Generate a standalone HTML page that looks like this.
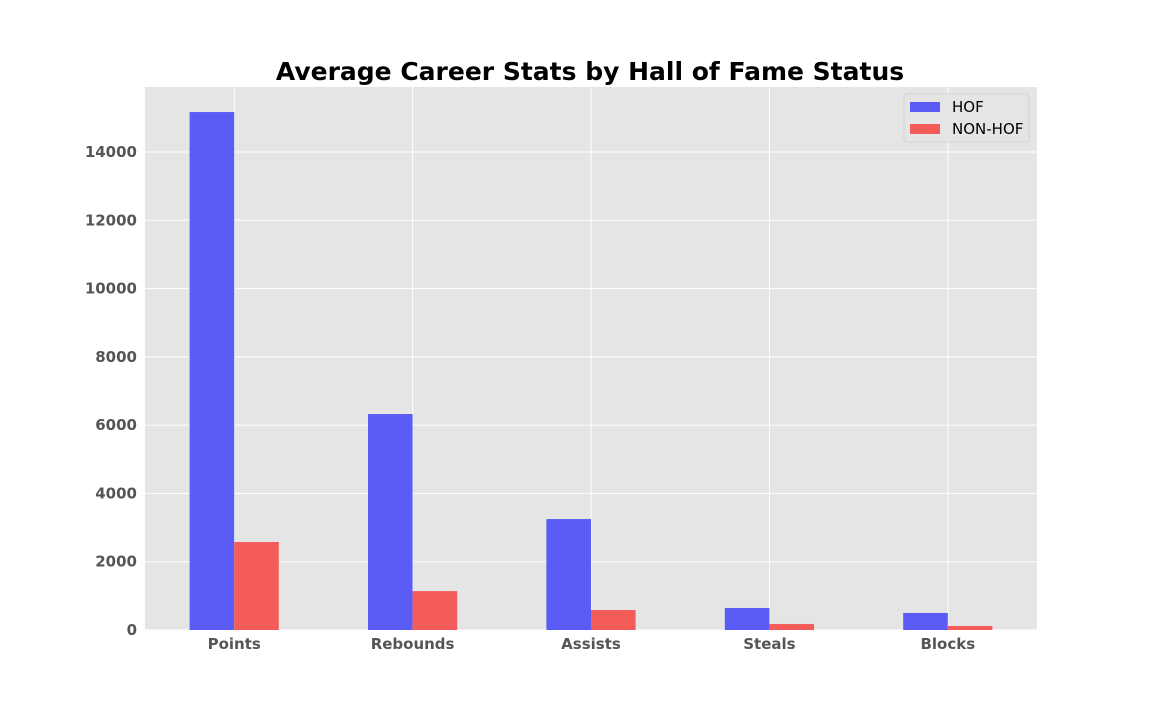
<!DOCTYPE html>
<html><head><meta charset="utf-8"><style>
body{margin:0;background:#fff;}
svg{display:block;font-family:"DejaVu Sans","Liberation Sans",sans-serif;}
</style></head><body>
<svg id="chart" width="1152" height="720"></svg>
<script>
const categories=["Points","Rebounds","Assists","Steals","Blocks"];
const hofValues=[15170,6325,3250,645,500];
const nonHofValues=[2577,1140,586,176,117];
const yTicks=[0,2000,4000,6000,8000,10000,12000,14000];
const NS="http://www.w3.org/2000/svg";
const svg=document.getElementById('chart');
const L=145,R=1037,T=87,B=630;
const step=(R-L)/categories.length;
const bw=step*0.25;
const y=v=>B-(v/14000)*(B-152);
const xc=i=>L+step*(i+0.5);
function mk(tag,attrs,parent){const e=document.createElementNS(NS,tag);for(const k in attrs)e.setAttribute(k,attrs[k]);(parent||svg).appendChild(e);return e;}
const bg=mk('rect',{x:L,y:T,width:R-L,height:B-T,fill:'#e5e5e5'});


yTicks.forEach(t=>{
  const g=mk('line',{x1:L,x2:R,y1:y(t),y2:y(t),stroke:'#fff','stroke-width':1});
  
  
  const tx=mk('text',{x:L-8,y:y(t)+5,'text-anchor':'end','font-size':15,'font-weight':'bold',fill:'#555'});
  tx.textContent=t;
  
  
});
categories.forEach((c,i)=>{
  const g=mk('line',{x1:xc(i),x2:xc(i),y1:T,y2:B,stroke:'#fff','stroke-width':1});
  
  
});
categories.forEach((c,i)=>{
  const b1=mk('rect',{x:xc(i)-bw,y:y(hofValues[i]),width:bw,height:B-y(hofValues[i]),fill:'#5b5bf5'});
  
  
  const b2=mk('rect',{x:xc(i),y:y(nonHofValues[i]),width:bw,height:B-y(nonHofValues[i]),fill:'#f45c5c'});
  
  
  const tx=mk('text',{x:xc(i),y:B+19,'text-anchor':'middle','font-size':15,'font-weight':'bold',fill:'#555'});
  tx.textContent=c;
  
  
});
const title=mk('text',{x:590,y:80,'text-anchor':'middle','font-size':25,'font-weight':'bold',fill:'#000'});
title.textContent='Average Career Stats by Hall of Fame Status';


const lg=mk('g',{});


mk('rect',{x:904,y:94,width:125,height:48,rx:3,fill:'#e5e5e5',stroke:'#ccc','stroke-width':0.8},lg);
[['HOF','#5b5bf5',107],['NON-HOF','#f45c5c',129]].forEach(([n,col,yy])=>{
  const e=mk('g',{},lg);
  
  
  mk('rect',{x:910,y:yy-5,width:30,height:10,fill:col},e);
  const t=mk('text',{x:952,y:yy+5,'font-size':15,fill:'#000'},e);
  t.textContent=n;
});
</script>
</body></html>
